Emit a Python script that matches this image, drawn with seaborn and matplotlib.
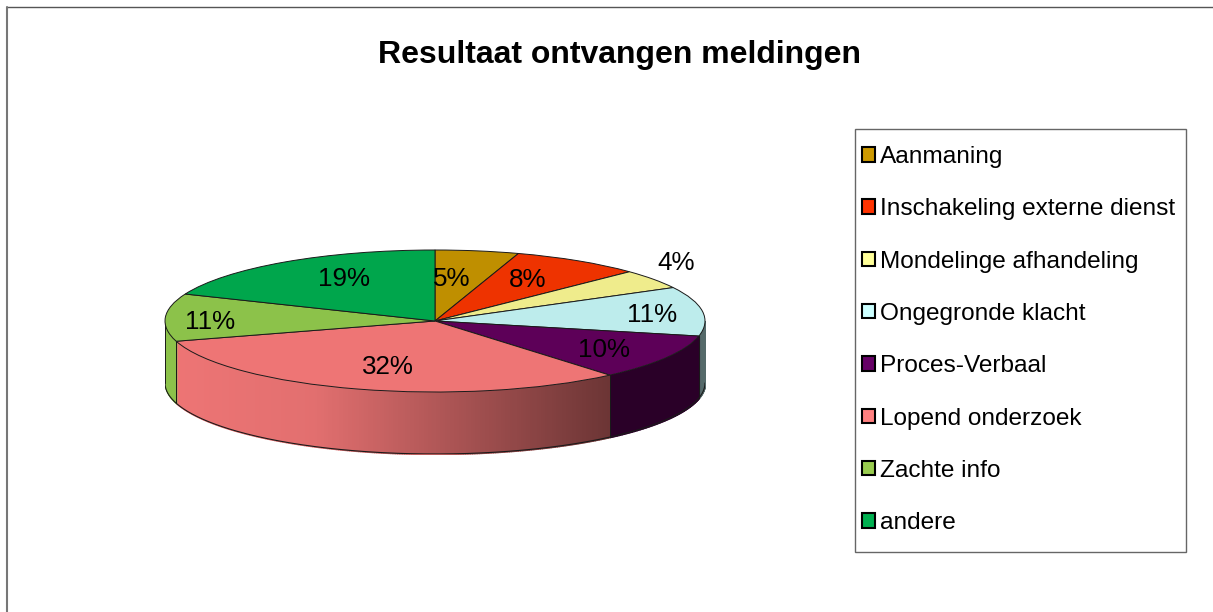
import numpy as np
import matplotlib
matplotlib.use('Agg')
import matplotlib.pyplot as plt
import seaborn as sns
from matplotlib.lines import Line2D
from matplotlib.patches import Patch, Rectangle

# --- data ---
TITLE = 'Resultaat ontvangen meldingen'
CATEGORIES = ['Aanmaning', 'Inschakeling externe dienst', 'Mondelinge afhandeling',
              'Ongegronde klacht', 'Proces-Verbaal', 'Lopend onderzoek',
              'Zachte info', 'andere']
# read from the slice boundaries, the labels show these rounded
VALUES = [5.0, 7.8, 4.4, 11.2, 10.4, 31.6, 10.8, 18.8]
FACE_COLORS = ['#BF8F00', '#EE3300', '#EFEC8C', '#BDECEC',
               '#5D0058', '#EE7575', '#8CC24A', '#00A64C']
LEGEND_COLORS = ['#CC9900', '#FF3300', '#FFFF99', '#CCFFFF',
                 '#660066', '#FF8080', '#99CC4F', '#00B050']

# --- layout, in pixels of the reference ---
W, H = 1213, 612
PIE_LEFT, PIE_RIGHT = 165, 705
PIE_TOP, PIE_BOTTOM = 250, 392
DEPTH_PX = 62
LABEL_PX = [(452, 279), (528, 280), (676, 263), (652, 315),
            (604, 350), (388, 367), (210, 322), (344, 279)]
FONT = 'Liberation Sans'


def fx(px):
    return px / W


def fy(px):
    return 1 - px / H


sns.set_theme(style='white')
plt.rcParams['font.family'] = [FONT, 'DejaVu Sans']

fig = plt.figure(figsize=(W / 100, H / 100), dpi=100, facecolor='white')
ax = fig.add_axes([fx(PIE_LEFT), fy(PIE_BOTTOM + DEPTH_PX),
                   (PIE_RIGHT - PIE_LEFT) / W,
                   (PIE_BOTTOM + DEPTH_PX - PIE_TOP) / H])

palette = sns.color_palette(FACE_COLORS)
ax.pie(VALUES, colors=palette, startangle=90, counterclock=False, radius=1,
       wedgeprops={'edgecolor': '#1a1a1a', 'linewidth': 0.7, 'zorder': 3})

# squash the round pie into the tilted ellipse
depth = DEPTH_PX / ((PIE_BOTTOM - PIE_TOP) / 2)
ax.set_aspect('auto')
ax.set_xlim(-1, 1)
ax.set_ylim(-1 - depth, 1)

# side wall, built from the same values as the pie
edges = np.cumsum([0] + VALUES) / sum(VALUES) * 2 * np.pi
for i, color in enumerate(palette):
    start = max(edges[i], np.pi / 2)
    stop = min(edges[i + 1], 3 * np.pi / 2)
    if stop <= start:
        continue
    t = np.linspace(start, stop, int(np.degrees(stop - start) * 2) + 2)
    x, y = np.sin(t), np.cos(t)
    for j in range(len(t) - 1):
        shade = np.interp((x[j] + x[j + 1]) / 2, [-1, -0.45, 0.65, 1], [1, 0.95, 0.45, 0.45])
        c = tuple(v * shade for v in color)
        ax.fill_between(x[j:j + 2], y[j:j + 2], y[j:j + 2] - depth, color=c, lw=1.0, zorder=1)
    for k in (start, stop):
        ax.plot([np.sin(k)] * 2, [np.cos(k), np.cos(k) - depth],
                color='#1a1a1a', lw=0.7, zorder=2)

t = np.linspace(np.pi / 2, 3 * np.pi / 2, 300)
ax.plot(np.sin(t), np.cos(t) - depth, color='#1a1a1a', lw=0.8, zorder=2)

# percent labels
for val, (px, py) in zip(VALUES, LABEL_PX):
    fig.text(fx(px), fy(py), f'{val:.0f}%', ha='center', va='center',
             fontsize=18.7, color='black', zorder=5)

fig.text(fx(619), fy(55), TITLE, ha='center', va='center',
         fontsize=23, fontweight='bold', color='black')

# legend box and legend
fig.add_artist(Rectangle((fx(855), fy(552)), 331 / W, 423 / H, transform=fig.transFigure,
                         facecolor='white', edgecolor='#666666', lw=1.0))
handles = [Patch(facecolor=c, edgecolor='black', lw=1.5) for c in LEGEND_COLORS]
fig.legend(handles, CATEGORIES, loc='upper left', frameon=False,
           bbox_to_anchor=(fx(862), fy(146)), borderaxespad=0, borderpad=0,
           fontsize=17.6, handlelength=0.53, handleheight=0.53, handletextpad=0.2,
           labelspacing=1.24, labelcolor='black')

# outer chart border: only top and left are inside the picture
fig.add_artist(Line2D([fx(7), 1], [fy(7), fy(7)], color='#555555', lw=1.0))
fig.add_artist(Line2D([fx(7), fx(7)], [fy(7), 0], color='#777777', lw=1.5))

fig.savefig('out.png', dpi=100)
plt.close(fig)
